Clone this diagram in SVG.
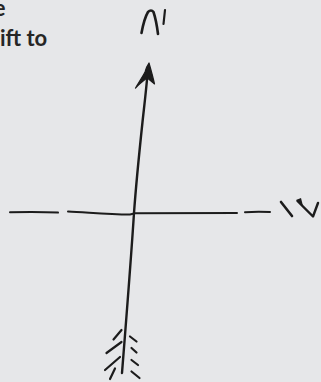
<svg xmlns="http://www.w3.org/2000/svg" width="321" height="382" viewBox="0 0 321 382">
<style>
.bg{fill:#e6e7e9}
.ink{fill:none;stroke:#1c1c1c;stroke-linecap:round;stroke-linejoin:round}
.t{font-family:Lato,"Open Sans","Liberation Sans",sans-serif;font-weight:700;font-size:22px;fill:#262626}
</style>
<rect class="bg" x="0" y="0" width="321" height="382"/>
<g id="caption">
<text class="t" x="5.5" y="16" text-anchor="end">e</text>
<text class="t" x="0" y="46">ift to</text>
</g>
<g id="label-top">
<path class="ink" stroke-width="2.6" d="M141.5,33 C143,25 145,17 148,12 C150,10 152,10 153.5,12 C155.5,18 157,26 158,34"/>
<path class="ink" stroke-width="2.2" d="M165,10 L163.5,24"/>
</g>
<g id="vertical-axis">
<path class="ink" stroke-width="2.4" d="M147.5,74 C146,92 144,108 142.5,122 C139,155 136,185 134,213 C131,260 127,310 122,373"/>
<path fill="#1c1c1c" stroke="#1c1c1c" stroke-width="1.2" stroke-linejoin="round" d="M149,63 C151,70 153,77 154.5,84 C152,82 149,79 147,78 C143,81 139,84 135.5,88 C139,82 143,76 145,72 C146,68 147.5,65 149,63 Z"/>
</g>
<g id="fletching">
<path class="ink" stroke-width="2.2" d="M121.5,330 L113.5,339.5 M121.5,342 L106.5,353 M120,357 L105,370 M115,368.5 L110,379"/>
<path class="ink" stroke-width="2.2" d="M130,336.5 L136.5,341.5 M131.5,348 L136.5,352.5 M131.5,360 L138,365 M131.5,371.5 L139.5,378"/>
</g>
<g id="horizontal-axis">
<path class="ink" stroke-width="2" d="M10,212.3 C25,212 45,212 58,212.6"/>
<path class="ink" stroke-width="2" d="M68,211.5 C85,212 105,214.5 130,214.5 L134,213.5"/>
<path class="ink" stroke-width="2" d="M134,213.3 C170,213 205,213 237,213"/>
<path class="ink" stroke-width="2" d="M245,212.2 C253,211.6 262,211.6 270,212"/>
</g>
<g id="label-right">
<path class="ink" stroke-width="2.6" d="M281,202 L292,216"/>
<path class="ink" stroke-width="2.4" d="M297.5,201 L313,216.5 L318,203"/>
<path fill="#1c1c1c" d="M296,200 L301,198 L303,206 Z"/>
</g>
</svg>
